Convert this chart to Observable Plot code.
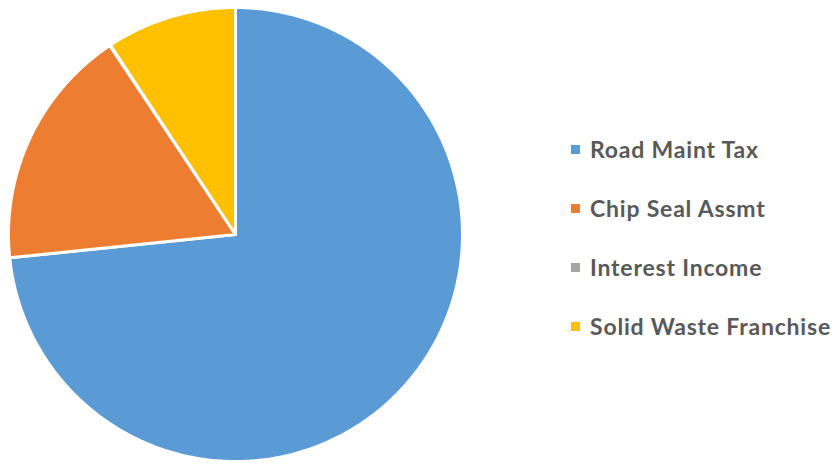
<!DOCTYPE html>
<html>
<head>
<meta charset="utf-8">
<script src="https://cdn.jsdelivr.net/npm/d3@7"></script>
<script src="https://cdn.jsdelivr.net/npm/@observablehq/plot@0.6"></script>
<style>
  html, body { margin: 0; padding: 0; background: #fff; }
  #wrap { position: relative; width: 834px; height: 464px; overflow: hidden; }
  #chart { position: absolute; left: 0; top: 0; }
  #legend { position: absolute; left: 571px; top: 119px; font-family: Lato, "Open Sans", sans-serif; font-weight: bold; font-size: 23px; letter-spacing: 0.8px; color: #595959; }
  .item { display: flex; align-items: center; height: 59px; white-space: nowrap; }
  .sw { width: 9px; height: 9px; margin-right: 10px; margin-top: 2px; }
</style>
</head>
<body>
<div id="wrap"><div id="chart"></div><div id="legend"></div></div>
<script>
const categories = ["Road Maint Tax", "Chip Seal Assmt", "Interest Income", "Solid Waste Franchise"];
const values = [73.4, 17.3, 0.05, 9.3];
const colors = ["#5B9BD5", "#ED7D31", "#A5A5A5", "#FFC000"];

const table = categories.map((c, i) => ({cat: c, value: values[i]}));
const arcs = d3.pie().sort(null).value(d => d.value)(table);
const pts = [];
for (const a of arcs) {
  const n = Math.max(2, Math.ceil((a.endAngle - a.startAngle) / 0.01));
  pts.push({cat: a.data.cat, x: 0, y: 0});
  for (let k = 0; k <= n; k++) {
    const t = a.startAngle + (a.endAngle - a.startAngle) * k / n;
    pts.push({cat: a.data.cat, x: Math.sin(t), y: Math.cos(t)});
  }
  pts.push({cat: a.data.cat, x: 0, y: 0});
}

const chart = Plot.plot({
  width: 470, height: 464,
  marginLeft: 8, marginRight: 8, marginTop: 7, marginBottom: 3,
  x: {domain: [-1, 1], axis: null},
  y: {domain: [-1, 1], axis: null},
  color: {domain: categories, range: colors},
  marks: [
    Plot.line(pts, {x: "x", y: "y", z: "cat", fill: "cat", stroke: "white", strokeWidth: 3, strokeLinejoin: "miter", curve: "linear"})
  ]
});
document.getElementById("chart").appendChild(chart);

const leg = document.getElementById("legend");
categories.forEach((c, i) => {
  const it = document.createElement("div");
  it.className = "item";
  const sw = document.createElement("span");
  sw.className = "sw";
  sw.style.background = colors[i];
  const tx = document.createElement("span");
  tx.textContent = c;
  it.appendChild(sw); it.appendChild(tx);
  leg.appendChild(it);
});
</script>
</body>
</html>
